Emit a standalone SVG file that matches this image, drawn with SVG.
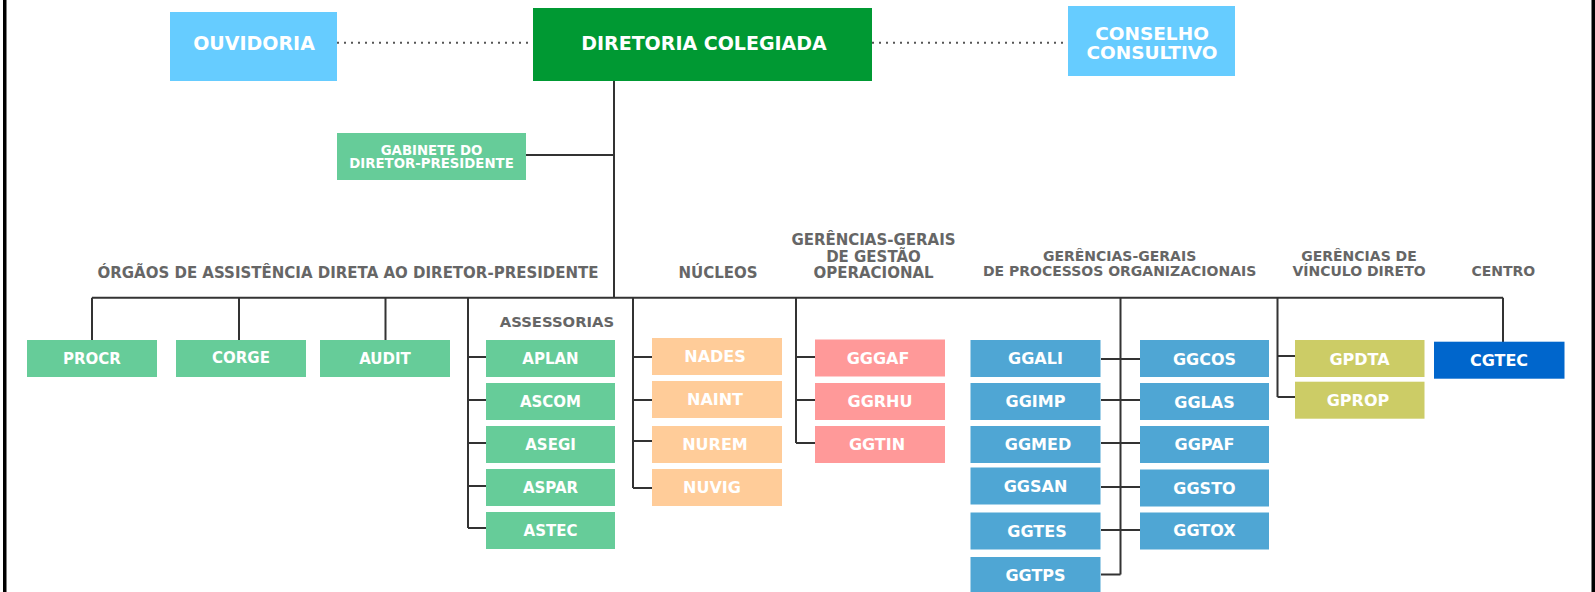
<svg xmlns="http://www.w3.org/2000/svg" width="1595" height="592" viewBox="0 0 1595 592">
<style>
.lb{fill:#66ccff}.dg{fill:#009933}.mg{fill:#66cc99}.pe{fill:#ffcc99}.pk{fill:#ff9999}.bl{fill:#4fa6d4}.ol{fill:#cccc66}.cb{fill:#0066cc}
text{font-family:"DejaVu Sans","Verdana",sans-serif;font-weight:bold;text-anchor:middle}
.w{fill:#ffffff;font-size:16px}
.ws{fill:#ffffff;font-size:15px}
.big{fill:#ffffff;font-size:19px}
.h{fill:#666666;font-size:15px}
.h2{fill:#666666;font-size:14px}
.c{fill:none;stroke:#333333;stroke-width:2}
.d{fill:none;stroke:#555555;stroke-width:2;stroke-dasharray:2 5}
</style>
<rect x="3" y="0" width="3.5" height="592" fill="#000"/>
<rect x="1591.5" y="0" width="3.5" height="592" fill="#000"/>
<g id="connectors">
<path class="d" d="M337 42.7H533M872 42.7H1068"/>
<path class="c" d="M614 81V297.7M526 155H614M92 297.7H1503M92 297.7V340M239 297.7V340M385.5 297.7V340"/>
<path class="c" d="M468 297.7V528M468 357H486M468 400H486M468 443H486M468 486H486M468 528H486"/>
<path class="c" d="M633 297.7V488M633 357H652M633 400H652M633 441H652M633 488H652"/>
<path class="c" d="M796 297.7V443M796 357H815M796 400H815M796 443H815"/>
<path class="c" d="M1120.5 297.7V574.5M1101 359H1140M1101 400H1140M1101 443H1140M1101 487H1140M1101 530H1140M1101 574.5H1120.5"/>
<path class="c" d="M1277.5 297.7V397M1277.5 356H1295M1277.5 397H1295M1503 297.7V342"/>
</g>
<g id="ouvidoria"><rect class="lb" x="170" y="12" width="167" height="69"/><text class="big" x="254" y="49.6">OUVIDORIA</text></g>
<g id="diretoria"><rect class="dg" x="533" y="8" width="339" height="73"/><text class="big" x="704" y="49.6">DIRETORIA COLEGIADA</text></g>
<g id="conselho"><rect class="lb" x="1068" y="6" width="167" height="70"/><text class="big" x="1152" y="40.2" style="font-size:18.5px">CONSELHO</text><text class="big" x="1152" y="58.6" style="font-size:18.5px">CONSULTIVO</text></g>
<g id="gabinete"><rect class="mg" x="337" y="133" width="189" height="47"/><text class="ws" x="431.5" y="154.9" style="font-size:13.3px">GABINETE DO</text><text class="ws" x="431.5" y="167.6" style="font-size:13.3px">DIRETOR-PRESIDENTE</text></g>
<g id="headings">
<text class="h" x="348" y="278">ÓRGÃOS DE ASSISTÊNCIA DIRETA AO DIRETOR-PRESIDENTE</text>
<text class="h" x="557" y="327" style="font-size:14.8px">ASSESSORIAS</text>
<text class="h" x="718" y="278">NÚCLEOS</text>
<text class="h" x="873.5" y="245">GERÊNCIAS-GERAIS</text>
<text class="h" x="873.5" y="261.5">DE GESTÃO</text>
<text class="h" x="873.5" y="277.8">OPERACIONAL</text>
<text class="h2" x="1119.6" y="260.5">GERÊNCIAS-GERAIS</text>
<text class="h2" x="1119.6" y="275.5">DE PROCESSOS ORGANIZACIONAIS</text>
<text class="h2" x="1359" y="260.5">GERÊNCIAS DE</text>
<text class="h2" x="1359" y="275.5">VÍNCULO DIRETO</text>
<text class="h2" x="1503.3" y="275.5">CENTRO</text>
</g>
<g id="procr"><rect class="mg" x="27" y="340" width="130" height="37"/><text class="ws" x="92" y="364">PROCR</text></g>
<g id="corge"><rect class="mg" x="176" y="340" width="130" height="37"/><text class="ws" x="241" y="363">CORGE</text></g>
<g id="audit"><rect class="mg" x="320" y="340" width="130" height="37"/><text class="ws" x="385" y="364">AUDIT</text></g>
<g id="aplan"><rect class="mg" x="486" y="340" width="129" height="37"/><text class="ws" x="550.5" y="363.5">APLAN</text></g>
<g id="ascom"><rect class="mg" x="486" y="383" width="129" height="37"/><text class="ws" x="550.5" y="406.5">ASCOM</text></g>
<g id="asegi"><rect class="mg" x="486" y="426" width="129" height="37"/><text class="ws" x="550.5" y="449.5">ASEGI</text></g>
<g id="aspar"><rect class="mg" x="486" y="469" width="129" height="37"/><text class="ws" x="550.5" y="492.5">ASPAR</text></g>
<g id="astec"><rect class="mg" x="486" y="512" width="129" height="37"/><text class="ws" x="550.5" y="535.5">ASTEC</text></g>
<g id="nades"><rect class="pe" x="652" y="338" width="130" height="37"/><text class="w" x="715" y="362">NADES</text></g>
<g id="naint"><rect class="pe" x="652" y="381" width="130" height="37"/><text class="w" x="715" y="405">NAINT</text></g>
<g id="nurem"><rect class="pe" x="652" y="426" width="130" height="37"/><text class="w" x="715" y="450">NUREM</text></g>
<g id="nuvig"><rect class="pe" x="652" y="469" width="130" height="37"/><text class="w" x="712" y="493">NUVIG</text></g>
<g id="gggaf"><rect class="pk" x="815" y="339.5" width="130" height="37"/><text class="w" x="878" y="363.5">GGGAF</text></g>
<g id="ggrhu"><rect class="pk" x="815" y="383" width="130" height="37"/><text class="w" x="880" y="407">GGRHU</text></g>
<g id="ggtin"><rect class="pk" x="815" y="426" width="130" height="37"/><text class="w" x="877" y="450">GGTIN</text></g>
<g id="ggali"><rect class="bl" x="970.5" y="340" width="130" height="37"/><text class="w" x="1035.5" y="364">GGALI</text></g>
<g id="ggimp"><rect class="bl" x="970.5" y="383" width="130" height="37"/><text class="w" x="1035.5" y="407">GGIMP</text></g>
<g id="ggmed"><rect class="bl" x="970.5" y="426" width="130" height="37"/><text class="w" x="1038" y="450">GGMED</text></g>
<g id="ggsan"><rect class="bl" x="970.5" y="467.5" width="130" height="37"/><text class="w" x="1035.5" y="491.5">GGSAN</text></g>
<g id="ggtes"><rect class="bl" x="970.5" y="512.5" width="130" height="37"/><text class="w" x="1037" y="537">GGTES</text></g>
<g id="ggtps"><rect class="bl" x="970.5" y="557" width="130" height="37"/><text class="w" x="1035.5" y="580.5">GGTPS</text></g>
<g id="ggcos"><rect class="bl" x="1140" y="340" width="129" height="37"/><text class="w" x="1204.5" y="364.5">GGCOS</text></g>
<g id="gglas"><rect class="bl" x="1140" y="383" width="129" height="37"/><text class="w" x="1204.5" y="407.5">GGLAS</text></g>
<g id="ggpaf"><rect class="bl" x="1140" y="426" width="129" height="37"/><text class="w" x="1204.5" y="450">GGPAF</text></g>
<g id="ggsto"><rect class="bl" x="1140" y="469.5" width="129" height="37"/><text class="w" x="1204.5" y="494">GGSTO</text></g>
<g id="ggtox"><rect class="bl" x="1140" y="512.5" width="129" height="37"/><text class="w" x="1204.5" y="536">GGTOX</text></g>
<g id="gpdta"><rect class="ol" x="1295" y="340" width="129.5" height="37"/><text class="w" x="1359.5" y="364.5">GPDTA</text></g>
<g id="gprop"><rect class="ol" x="1295" y="381.7" width="129.5" height="37"/><text class="w" x="1358" y="406">GPROP</text></g>
<g id="cgtec"><rect class="cb" x="1434" y="341.7" width="130.5" height="37"/><text class="w" x="1499" y="365.5">CGTEC</text></g>
</svg>
